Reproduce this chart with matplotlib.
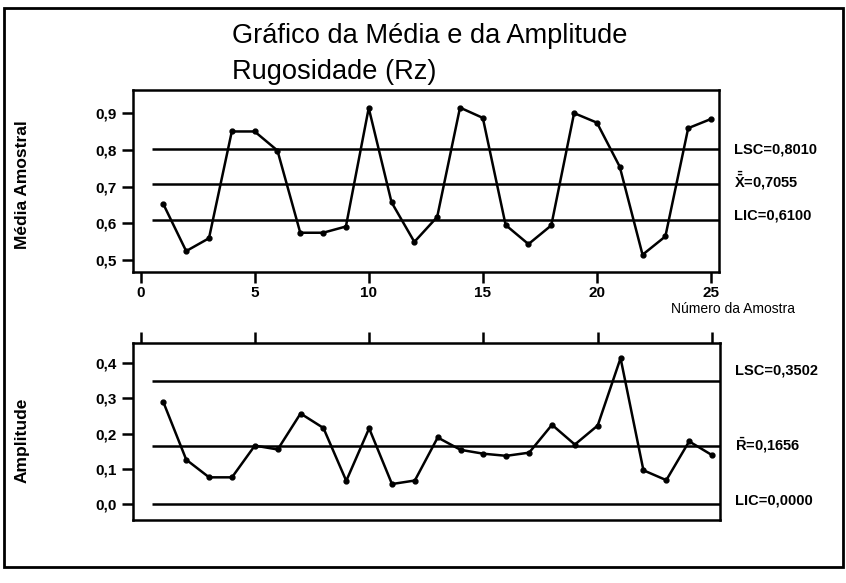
import matplotlib
matplotlib.use("Agg")
import matplotlib.pyplot as plt
from matplotlib.patches import Rectangle

plt.rcParams['font.family'] = ['Liberation Sans', 'DejaVu Sans']
plt.rcParams['mathtext.fontset'] = 'custom'
plt.rcParams['mathtext.rm'] = 'Liberation Sans:bold'
plt.rcParams['mathtext.bf'] = 'Liberation Sans:bold'

# ---- data ----
amostras = list(range(1, 26))
media = [0.652, 0.524, 0.559, 0.850, 0.850, 0.798, 0.574, 0.574, 0.591, 0.914,
         0.657, 0.549, 0.617, 0.915, 0.887, 0.595, 0.543, 0.594, 0.900, 0.874,
         0.754, 0.514, 0.564, 0.859, 0.884]
amplitude = [0.289, 0.126, 0.076, 0.076, 0.166, 0.155, 0.257, 0.216, 0.066, 0.215,
             0.057, 0.067, 0.189, 0.154, 0.143, 0.137, 0.146, 0.225, 0.169, 0.223,
             0.414, 0.096, 0.068, 0.178, 0.139]
lim_media = [0.8010, 0.7055, 0.6100]      # LSC, media, LIC
lim_ampl = [0.3502, 0.1656, 0.0000]       # LSC, media, LIC
x_ticks = [0, 5, 10, 15, 20, 25]
y_ticks_media = [0.5, 0.6, 0.7, 0.8, 0.9]
y_ticklabels_media = ['0,5', '0,6', '0,7', '0,8', '0,9']
y_ticks_ampl = [0.0, 0.1, 0.2, 0.3, 0.4]
y_ticklabels_ampl = ['0,0', '0,1', '0,2', '0,3', '0,4']
labels_media = ['LSC=0,8010', r'$\bar{\bar{\mathrm{X}}}$=0,7055', 'LIC=0,6100']
labels_ampl = ['LSC=0,3502', r'$\bar{\mathrm{R}}$=0,1656', 'LIC=0,0000']

W, H = 846, 583
fig = plt.figure(figsize=(W / 100, H / 100), dpi=100)

# outer frame
fig.patches.append(Rectangle((4 / W, 1 - 567 / H), (843 - 4) / W, (567 - 8) / H,
                             transform=fig.transFigure, fill=False,
                             edgecolor='black', linewidth=2))

fig.text(232 / W, 1 - 36 / H, 'Gráfico da Média e da Amplitude', fontsize=19.6,
         ha='left', va='center')
fig.text(232 / W, 1 - 72 / H, 'Rugosidade (Rz)', fontsize=19.6, ha='left', va='center')

ax1 = fig.add_axes([133 / W, 1 - 272 / H, (719 - 133) / W, (272 - 90) / H])
ax2 = fig.add_axes([133 / W, 1 - 520 / H, (720 - 133) / W, (520 - 343) / H])

xlim = (-0.33, 25.35)

for ax in (ax1, ax2):
    ax.set_xlim(*xlim)
    for s in ax.spines.values():
        s.set_linewidth(1.8)
    ax.tick_params(direction='out', length=8, width=1.8, labelsize=10.5)

# top panel
ax1.set_ylim(0.467, 0.963)
for v in lim_media:
    ax1.hlines(v, 0.5, xlim[1], color='black', linewidth=1.8)
ax1.plot(amostras, media, color='black', linewidth=1.8, marker='o', markersize=3.5)
ax1.set_xticks(x_ticks)
ax1.set_xticklabels([str(t) for t in x_ticks], fontweight='bold', fontsize=11)
ax1.set_yticks(y_ticks_media)
ax1.set_yticklabels(y_ticklabels_media, fontweight='bold', fontsize=11)
ax1.tick_params(axis='x', pad=2)
ax1.set_ylabel('Média Amostral', fontsize=12.5, fontweight='bold')
ax1.yaxis.set_label_coords(-0.176, 0.48)

offs_media = [0.0, 0.011, 0.012]
for v, t, o in zip(lim_media, labels_media, offs_media):
    ax1.text(1.025, v + o, t, transform=ax1.get_yaxis_transform(), fontsize=10.5,
             fontweight='bold', ha='left', va='center')

fig.text(733 / W, 1 - 309 / H, 'Número da Amostra', fontsize=10, ha='center',
         va='center')

# bottom panel
ax2.set_ylim(-0.045, 0.457)
for v in lim_ampl:
    ax2.hlines(v, 0.5, xlim[1], color='black', linewidth=1.8)
ax2.plot(amostras, amplitude, color='black', linewidth=1.8, marker='o', markersize=3.5)
ax2.set_xticks(x_ticks)
ax2.xaxis.set_ticks_position('top')
ax2.tick_params(axis='x', labeltop=False, labelbottom=False)
ax2.set_yticks(y_ticks_ampl)
ax2.set_yticklabels(y_ticklabels_ampl, fontweight='bold', fontsize=11)
ax2.set_ylabel('Amplitude', fontsize=12.5, fontweight='bold')
ax2.yaxis.set_label_coords(-0.176, 0.45)

offs_ampl = [0.03, 0.0, 0.01]
for v, t, o in zip(lim_ampl, labels_ampl, offs_ampl):
    ax2.text(1.025, v + o, t, transform=ax2.get_yaxis_transform(), fontsize=10.5,
             fontweight='bold', ha='left', va='center')

fig.savefig('out.png', dpi=100)
